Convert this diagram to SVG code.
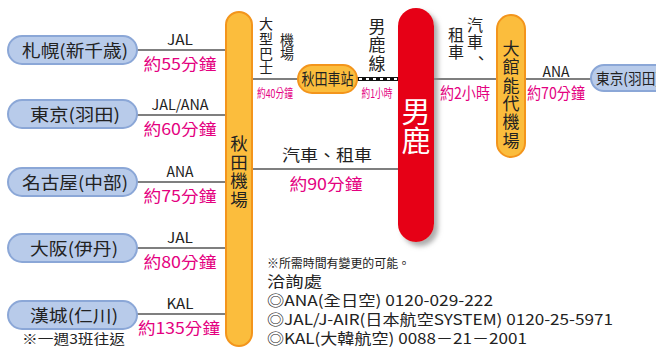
<svg xmlns="http://www.w3.org/2000/svg" width="656" height="347" viewBox="0 0 656 347">
<defs>
<style>
.t{font-family:"Noto Sans CJK TC","Noto Sans CJK JP",sans-serif;fill:#222}
.p{font-family:"Noto Sans CJK TC","Noto Sans CJK JP",sans-serif;fill:#e4007f}
.w{font-family:"Noto Sans CJK TC","Noto Sans CJK JP",sans-serif;fill:#fff}
.blue{fill:#b8cbea;stroke:#8ba7d7;stroke-width:2}
.org{fill:#fbbd3d;stroke:#f3951c;stroke-width:2}
.ln{stroke:#555;stroke-width:1.6;fill:none}
</style>
<filter id="sh" x="-30%" y="-10%" width="170%" height="130%">
<feDropShadow dx="4" dy="4" stdDeviation="2.5" flood-color="#888" flood-opacity="0.7"/>
</filter>
</defs>
<rect width="656" height="347" fill="#fff"/>

<g id="connectors">
<line class="ln" x1="137" y1="50" x2="227" y2="50"/>
<line class="ln" x1="137" y1="115" x2="227" y2="115"/>
<line class="ln" x1="137" y1="182" x2="227" y2="182"/>
<line class="ln" x1="137" y1="248" x2="227" y2="248"/>
<line class="ln" x1="137" y1="314" x2="227" y2="314"/>
<line class="ln" x1="252" y1="79" x2="298" y2="79"/>
<line x1="357" y1="79" x2="399" y2="79" stroke="#111" stroke-width="4"/>
<line x1="359" y1="79" x2="399" y2="79" stroke="#fff" stroke-width="2" stroke-dasharray="3,4"/>
<line class="ln" x1="433" y1="79" x2="498" y2="79"/>
<line class="ln" x1="525" y1="79" x2="591" y2="79"/>
<line class="ln" x1="252" y1="169" x2="399" y2="169"/>
<text class="t" x="180" y="45" font-size="14" text-anchor="middle" textLength="26" lengthAdjust="spacingAndGlyphs">JAL</text>
<text class="p" x="180" y="70" font-size="16" text-anchor="middle" textLength="73" lengthAdjust="spacingAndGlyphs">約55分鐘</text>
<text class="t" x="180" y="110" font-size="14" text-anchor="middle" textLength="57" lengthAdjust="spacingAndGlyphs">JAL/ANA</text>
<text class="p" x="180" y="135" font-size="16" text-anchor="middle" textLength="73" lengthAdjust="spacingAndGlyphs">約60分鐘</text>
<text class="t" x="180" y="177" font-size="14" text-anchor="middle" textLength="27" lengthAdjust="spacingAndGlyphs">ANA</text>
<text class="p" x="180" y="202" font-size="16" text-anchor="middle" textLength="73" lengthAdjust="spacingAndGlyphs">約75分鐘</text>
<text class="t" x="180" y="243" font-size="14" text-anchor="middle" textLength="26" lengthAdjust="spacingAndGlyphs">JAL</text>
<text class="p" x="180" y="268" font-size="16" text-anchor="middle" textLength="73" lengthAdjust="spacingAndGlyphs">約80分鐘</text>
<text class="t" x="180" y="309" font-size="14" text-anchor="middle" textLength="27" lengthAdjust="spacingAndGlyphs">KAL</text>
<text class="p" x="179" y="334" font-size="16" text-anchor="middle" textLength="82" lengthAdjust="spacingAndGlyphs">約135分鐘</text>
<text class="t" font-size="14" text-anchor="middle"><tspan x="266" y="29">大</tspan><tspan x="266" y="44">型</tspan><tspan x="266" y="59">巴</tspan><tspan x="266" y="73">士</tspan></text>
<text class="t" font-size="14" text-anchor="middle"><tspan x="287" y="45">機</tspan><tspan x="287" y="59">場</tspan></text>
<text class="p" x="275" y="98" font-size="12" text-anchor="middle" textLength="36" lengthAdjust="spacingAndGlyphs">約40分鐘</text>
<text class="t" font-size="17" text-anchor="middle"><tspan x="377" y="33">男</tspan><tspan x="377" y="51">鹿</tspan><tspan x="377" y="70">線</tspan></text>
<text class="p" x="377" y="98" font-size="12" text-anchor="middle" textLength="31" lengthAdjust="spacingAndGlyphs">約1小時</text>
<text class="t" font-size="16" text-anchor="middle"><tspan x="475" y="31">汽</tspan><tspan x="475" y="48">車</tspan><tspan x="481" y="64">、</tspan></text>
<text class="t" font-size="16" text-anchor="middle"><tspan x="456" y="41">租</tspan><tspan x="456" y="58">車</tspan></text>
<text class="p" x="465" y="99" font-size="16" text-anchor="middle" textLength="50" lengthAdjust="spacingAndGlyphs">約2小時</text>
<text class="t" x="556" y="77" font-size="14" text-anchor="middle" textLength="27" lengthAdjust="spacingAndGlyphs">ANA</text>
<text class="p" x="556" y="99" font-size="16" text-anchor="middle" textLength="58" lengthAdjust="spacingAndGlyphs">約70分鐘</text>
<text class="t" x="327" y="161" font-size="16" text-anchor="middle" textLength="90" lengthAdjust="spacingAndGlyphs">汽車、租車</text>
<text class="p" x="326" y="190" font-size="16" text-anchor="middle" textLength="73" lengthAdjust="spacingAndGlyphs">約90分鐘</text>
</g>

<g id="sapporo"><rect class="blue" x="8" y="36" width="129" height="28" rx="14"/><text class="t" x="75" y="57" font-size="17" text-anchor="middle" textLength="106" lengthAdjust="spacingAndGlyphs">札幌(新千歳)</text></g>
<g id="tokyo-left"><rect class="blue" x="8" y="100" width="129" height="28" rx="14"/><text class="t" x="75" y="121" font-size="17" text-anchor="middle" textLength="90" lengthAdjust="spacingAndGlyphs">東京(羽田)</text></g>
<g id="nagoya"><rect class="blue" x="8" y="168" width="129" height="28" rx="14"/><text class="t" x="75" y="189" font-size="17" text-anchor="middle" textLength="106" lengthAdjust="spacingAndGlyphs">名古屋(中部)</text></g>
<g id="osaka"><rect class="blue" x="8" y="234" width="129" height="28" rx="14"/><text class="t" x="74" y="255" font-size="17" text-anchor="middle" textLength="88" lengthAdjust="spacingAndGlyphs">大阪(伊丹)</text></g>
<g id="seoul"><rect class="blue" x="8" y="301" width="129" height="28" rx="14"/><text class="t" x="74" y="322" font-size="17" text-anchor="middle" textLength="88" lengthAdjust="spacingAndGlyphs">漢城(仁川)</text></g>
<text class="t" x="22" y="344" font-size="13.5" textLength="103" lengthAdjust="spacingAndGlyphs">※一週3班往返</text>

<g id="akita-airport"><rect class="org" x="226" y="12" width="26" height="334" rx="13"/><text class="t" font-size="17.5" text-anchor="middle"><tspan x="239" y="150">秋</tspan><tspan x="239" y="168.5">田</tspan><tspan x="239" y="187">機</tspan><tspan x="239" y="205.5">場</tspan></text></g>

<g id="akita-station"><rect class="org" x="298" y="65" width="59" height="28" rx="14"/><text class="t" x="327.5" y="85" font-size="16" text-anchor="middle" textLength="52" lengthAdjust="spacingAndGlyphs">秋田車站</text></g>

<g id="oga"><rect x="398" y="8" width="36" height="234" rx="18" fill="#e60012" filter="url(#sh)"/><text class="w" font-size="29" text-anchor="middle"><tspan x="416" y="123">男</tspan><tspan x="416" y="152">鹿</tspan></text></g>

<g id="odate-noshiro"><rect class="org" x="497" y="15" width="28" height="142" rx="14"/><text class="t" font-size="17" text-anchor="middle"><tspan x="511" y="55">大</tspan><tspan x="511" y="73">館</tspan><tspan x="511" y="92">能</tspan><tspan x="511" y="110">代</tspan><tspan x="511" y="128">機</tspan><tspan x="511" y="147">場</tspan></text></g>

<g id="tokyo-right"><rect class="blue" x="591" y="65" width="90" height="26" rx="13"/><text class="t" x="596" y="84" font-size="15" textLength="64" lengthAdjust="spacingAndGlyphs">東京(羽田)</text></g>

<g id="notes">
<text class="t" x="267" y="268" font-size="12" textLength="143" lengthAdjust="spacingAndGlyphs">※所需時間有變更的可能。</text>
<text class="t" x="267" y="287" font-size="15" textLength="55" lengthAdjust="spacingAndGlyphs">洽詢處</text>
<text class="t" x="267" y="306" font-size="15" textLength="226" lengthAdjust="spacingAndGlyphs">◎ANA(全日空) 0120-029-222</text>
<text class="t" x="267" y="325" font-size="15" textLength="346" lengthAdjust="spacingAndGlyphs">◎JAL/J-AIR(日本航空SYSTEM) 0120-25-5971</text>
<text class="t" x="267" y="344" font-size="15" textLength="260" lengthAdjust="spacingAndGlyphs">◎KAL(大韓航空) 0088－21－2001</text>
</g>
</svg>
